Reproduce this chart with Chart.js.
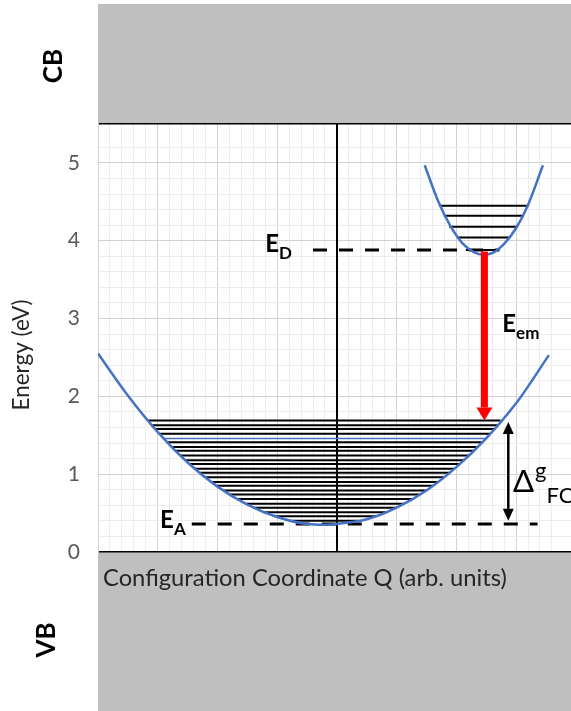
<!DOCTYPE html>
<html><head><meta charset="utf-8">
<script src="https://cdn.jsdelivr.net/npm/chart.js@4.4.0/dist/chart.umd.min.js"></script>
<style>html,body{margin:0;padding:0;background:#fff;overflow:hidden}canvas{display:block}</style>
</head><body>
<canvas id="c" width="571" height="711"></canvas>
<script>
// ---- data ----
const yTickLabels = ['0','1','2','3','4','5'];
// ground-state (acceptor) parabola
const lowerQ = [-4.0,-3.5,-3.0,-2.5,-2.0,-1.5,-1.0,-0.5,-0.2,0.0,0.5,1.0,1.5,2.0,2.5,3.0,3.55];
const lowerE = [2.55,2.01,1.54,1.15,0.84,0.61,0.45,0.36,0.35,0.36,0.42,0.57,0.79,1.09,1.46,1.91,2.53];
// excited-state (donor) parabola
const upperQ = [1.47,1.7,1.9,2.1,2.3,2.46,2.6,2.8,3.0,3.2,3.45];
const upperE = [4.97,4.50,4.19,3.97,3.85,3.82,3.84,3.96,4.16,4.46,4.97];
// vibrational levels in the lower well
const lowerLevelE     = [0.40,0.46,0.51,0.57,0.62,0.68,0.74,0.79,0.85,0.90,0.96,1.02,1.07,1.13,1.18,1.24,1.30,1.35,1.41,1.46,1.52,1.58,1.63,1.69];
const lowerLevelLeft  = [-0.77,-1.05,-1.23,-1.40,-1.53,-1.67,-1.80,-1.90,-2.01,-2.10,-2.20,-2.30,-2.38,-2.47,-2.54,-2.62,-2.70,-2.77,-2.84,-2.90,-2.97,-3.04,-3.10,-3.16];
const lowerLevelRight = [0.37,0.65,0.83,1.00,1.13,1.27,1.40,1.50,1.61,1.70,1.80,1.90,1.98,2.07,2.14,2.22,2.30,2.37,2.44,2.50,2.57,2.64,2.70,2.74];
// vibrational levels in the upper well
const upperLevelE     = [3.88,4.04,4.18,4.32,4.45];
const upperLevelLeft  = [2.16,2.01,1.88,1.79,1.71];
const upperLevelRight = [2.72,2.90,3.03,3.13,3.21];
// reference energies
const donorLine    = {q:[-0.40,2.72], e:[3.88,3.88]};
const acceptorLine = {q:[-2.43,3.36], e:[0.36,0.36]};
// transitions
const emissionArrow = {q:[2.47,2.47], e:[3.86,1.69]};
const franckCondon  = {q:[2.87,2.87], e:[1.67,0.40]};

// ---- styling ----
const BLUE = '#4472C4';
const highlightLevel = 19;
const FONT = "Lato, 'Open Sans', 'DejaVu Sans', sans-serif";

const pts = (qs, es) => qs.map((q,i)=>({x:q, y:es[i]}));

const datasets = [];
datasets.push({data: pts(lowerQ, lowerE), showLine:true, borderColor:BLUE, borderWidth:2.5, pointRadius:0, cubicInterpolationMode:'monotone', order:0});
datasets.push({data: pts(upperQ, upperE), showLine:true, borderColor:BLUE, borderWidth:2.5, pointRadius:0, cubicInterpolationMode:'monotone', order:0});
lowerLevelE.forEach((e,i)=>datasets.push({data:[{x:lowerLevelLeft[i],y:e},{x:lowerLevelRight[i],y:e}], showLine:true,
  borderColor: i===highlightLevel?BLUE:'#000', borderWidth: i===highlightLevel?1.5:2, pointRadius:0, order:2}));
upperLevelE.forEach((e,i)=>datasets.push({data:[{x:upperLevelLeft[i],y:e},{x:upperLevelRight[i],y:e}], showLine:true,
  borderColor:'#000', borderWidth:2, pointRadius:0, order:2}));
datasets.push({data: pts(donorLine.q, donorLine.e), showLine:true, borderColor:'#000', borderWidth:3, borderDash:[14,12], borderCapStyle:'butt', pointRadius:0, order:3});
datasets.push({data: pts(acceptorLine.q, acceptorLine.e), showLine:true, borderColor:'#000', borderWidth:3, borderDash:[14,12], borderCapStyle:'butt', pointRadius:0, order:3});
datasets.push({data: pts(emissionArrow.q, emissionArrow.e), showLine:false, pointRadius:0, order:1,
  arrow:{color:'#FF0000', width:7, headW:16, headL:13, both:false}});
datasets.push({data: pts(franckCondon.q, franckCondon.e), showLine:false, pointRadius:0, order:1,
  arrow:{color:'#000', width:2.5, headW:11, headL:12, both:true}});

const isInt = v => Math.abs(v - Math.round(v)) < 1e-6;

const bandsPlugin = {
  id:'bands',
  beforeDraw(chart){
    const {ctx, chartArea:a, height} = chart;
    ctx.save();
    ctx.fillStyle = '#bfbfbf';
    ctx.fillRect(a.left, 4, a.right - a.left, a.top - 4);
    ctx.fillRect(a.left, a.bottom, a.right - a.left, height - a.bottom);
    ctx.restore();
  },
  beforeDatasetsDraw(chart){
    // vertical axis line at Q = 0, drawn above both grids
    const {ctx, chartArea:a} = chart;
    const x0 = Math.round(chart.scales.x.getPixelForValue(0));
    ctx.save();
    ctx.strokeStyle = '#000'; ctx.lineWidth = 2;
    ctx.beginPath(); ctx.moveTo(x0, a.top); ctx.lineTo(x0, a.bottom); ctx.stroke();
    ctx.restore();
  }
};

const arrowPlugin = {
  id:'arrows',
  afterDatasetsDraw(chart){
    const ctx = chart.ctx;
    chart.data.datasets.forEach((ds,i)=>{
      if(!ds.arrow) return;
      const m = chart.getDatasetMeta(i);
      const p0 = m.data[0], p1 = m.data[1];
      const o = ds.arrow;
      const dx = p1.x - p0.x, dy = p1.y - p0.y, L = Math.hypot(dx,dy);
      const ux = dx/L, uy = dy/L;
      const sx = o.both ? p0.x + ux*o.headL : p0.x, sy = o.both ? p0.y + uy*o.headL : p0.y;
      const ex = p1.x - ux*o.headL, ey = p1.y - uy*o.headL;
      ctx.save();
      ctx.strokeStyle = o.color; ctx.fillStyle = o.color; ctx.lineWidth = o.width; ctx.lineCap='butt';
      ctx.beginPath(); ctx.moveTo(sx, sy); ctx.lineTo(ex, ey); ctx.stroke();
      const head = (tx,ty,vx,vy)=>{
        const bx = tx - vx*o.headL, by = ty - vy*o.headL;
        ctx.beginPath();
        ctx.moveTo(tx,ty);
        ctx.lineTo(bx - vy*o.headW/2, by + vx*o.headW/2);
        ctx.lineTo(bx + vy*o.headW/2, by - vx*o.headW/2);
        ctx.closePath(); ctx.fill();
      };
      head(p1.x, p1.y, ux, uy);
      if(o.both) head(p0.x, p0.y, -ux, -uy);
      ctx.restore();
    });
  }
};

const textPlugin = {
  id:'texts',
  afterDraw(chart, args, opts){
    const ctx = chart.ctx, xs = chart.scales.x, ys = chart.scales.y;
    ctx.save();
    ctx.textBaseline = 'alphabetic'; ctx.textAlign = 'left';
    opts.labels.forEach(l=>{
      let x = xs.getPixelForValue(l.q), y = ys.getPixelForValue(l.e);
      ctx.fillStyle = '#000';
      ctx.font = l.mainFont; ctx.fillText(l.main, x, y);
      let nx = x + ctx.measureText(l.main).width + (l.gap||0);
      if(l.sup){ ctx.font = l.supFont; ctx.fillText(l.sup, nx, y + l.supDy); nx += ctx.measureText(l.sup).width; }
      if(l.sub){ ctx.font = l.subFont; ctx.fillText(l.sub, nx, y + l.subDy); }
    });
    const rot = (txt, font, color, cx, cy)=>{
      ctx.save(); ctx.translate(cx, cy); ctx.rotate(-Math.PI/2);
      ctx.font = font; ctx.fillStyle = color; ctx.textAlign='center'; ctx.textBaseline='middle';
      ctx.fillText(txt, 0, 0); ctx.restore();
    };
    rot('CB', 'bold 26px ' + FONT, '#000', 54, 66);
    rot('VB', 'bold 26px ' + FONT, '#000', 47, 640);
    rot('Energy (eV)', '22.5px ' + FONT, '#262626', 22, 355);
    const xt = 'Configuration Coordinate Q (arb. units)';
    ctx.font = '22px ' + FONT;
    const w = ctx.measureText(xt).width;
    const fs = 22 * 404 / w;
    ctx.font = fs.toFixed(2) + 'px ' + FONT;
    ctx.fillStyle = '#262626'; ctx.textAlign='left'; ctx.textBaseline='alphabetic';
    ctx.fillText(xt, 103, 586);
    ctx.restore();
  }
};

const gridColor = (ctx, axis) => {
  const v = ctx.tick.value;
  if (axis==='x' && Math.abs(v) < 1e-6) return 'rgba(0,0,0,0)';
  if (axis==='y' && (Math.abs(v) < 1e-6 || Math.abs(v-5.5) < 1e-6)) return '#000';
  return isInt(v) ? '#d2d2d2' : '#ececec';
};
const gridWidth = (ctx, axis) => {
  const v = ctx.tick.value;
  if (axis==='y' && (Math.abs(v) < 1e-6 || Math.abs(v-5.5) < 1e-6)) return 1.5;
  return 1;
};

new Chart(document.getElementById('c'), {
  type:'scatter',
  data:{datasets},
  plugins:[bandsPlugin, arrowPlugin, textPlugin],
  options:{
    responsive:false, devicePixelRatio:1, animation:false,
    layout:{padding:{left:0,right:0,top:124,bottom:159}},
    plugins:{
      legend:{display:false}, tooltip:{enabled:false},
      texts:{labels:[
        {main:'E', sub:'D', q:-1.20, e:3.85, mainFont:'bold 24px '+FONT, subFont:'bold 17px '+FONT, subDy:7},
        {main:'E', sub:'A', q:-2.96, e:0.31, mainFont:'bold 24px '+FONT, subFont:'bold 17px '+FONT, subDy:7},
        {main:'E', sub:'em', q:2.77, e:2.83, mainFont:'bold 24px '+FONT, subFont:'bold 17px '+FONT, subDy:7},
        {main:'\u0394', sup:'g', sub:'FC', q:2.95, e:0.775, mainFont:'31px '+FONT, supFont:'22px '+FONT, subFont:'22px '+FONT, supDy:-14, subDy:11, gap:1}
      ]}
    },
    scales:{
      x:{type:'linear', min:-4, max:3.92,
        ticks:{display:false, stepSize:0.2, autoSkip:false},
        grid:{color:c=>gridColor(c,'x'), lineWidth:c=>gridWidth(c,'x'), drawTicks:false},
        border:{display:false},
        afterFit(s){ s.height = 0; }
      },
      y:{type:'linear', min:0, max:5.5,
        ticks:{stepSize:0.2, autoSkip:false, padding:18, color:'#595959', font:{family:FONT, size:21},
          callback:(v)=>{ const r=Math.round(v); return (isInt(v) && r>=0 && r<yTickLabels.length) ? yTickLabels[r] : ''; }},
        grid:{color:c=>gridColor(c,'y'), lineWidth:c=>gridWidth(c,'y'), drawTicks:false},
        border:{display:true, color:'#d2d2d2', width:1},
        afterFit(s){ s.width = 98; }
      }
    }
  }
});
</script>
</body></html>
